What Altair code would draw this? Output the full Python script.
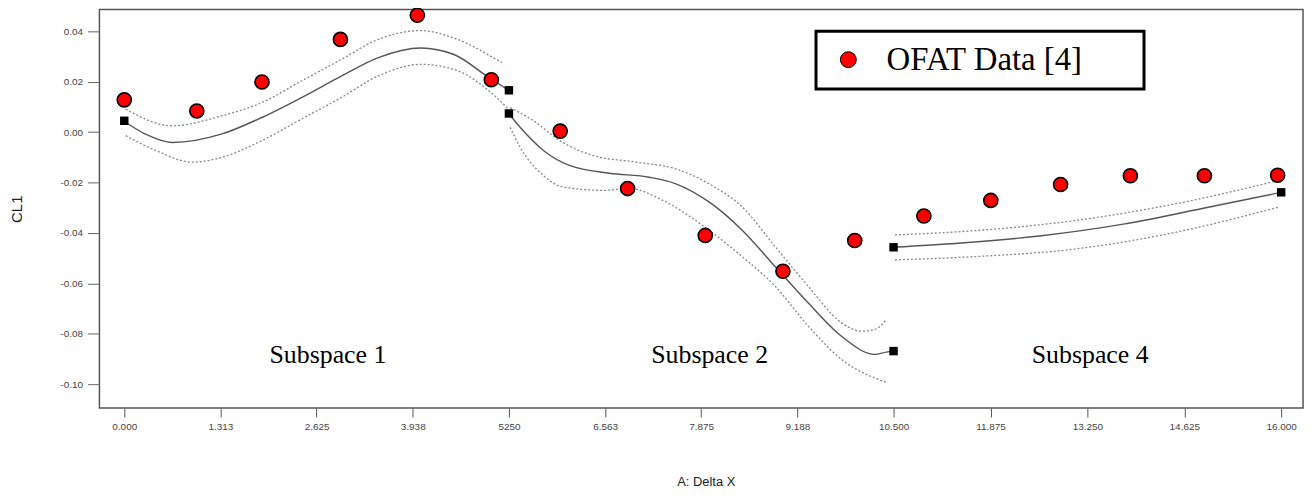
import altair as alt
import pandas as pd

# ---------------- data ----------------
ofat_x = [0.0, 0.99, 1.88, 2.95, 4.0, 5.01, 5.95, 6.87, 7.93, 8.99, 9.97,
          10.93, 11.88, 12.87, 13.86, 14.91, 15.95]
ofat_y = [0.0128, 0.0084, 0.0199, 0.0368, 0.0464, 0.0208, 0.0004, -0.0224,
          -0.0410, -0.0552, -0.0430, -0.0333, -0.0271, -0.0208, -0.0173,
          -0.0173, -0.0171]

design_x = [0.0, 5.25, 5.25, 10.5, 10.5, 16.0]
design_y = [0.0045, 0.0166, 0.0074, -0.0869, -0.0457, -0.0239]

s1_fit_x = [0.0, 0.29, 0.655, 1.334, 1.876, 2.419, 2.961, 3.459, 4.047, 4.5, 4.952, 5.246]
s1_fit_y = [0.0042, -0.0008, -0.0041, -0.0007, 0.0058, 0.0137, 0.0222, 0.0295, 0.0334, 0.0308, 0.0222, 0.0166]
s1_hi_x = [0.02, 0.655, 1.334, 1.876, 2.419, 2.961, 3.459, 4.047, 4.5, 5.155]
s1_hi_y = [0.0091, 0.0025, 0.0065, 0.0117, 0.0203, 0.0288, 0.0367, 0.0403, 0.0373, 0.0275]
s1_lo_x = [0.02, 0.43, 0.927, 1.334, 1.876, 2.419, 2.961, 3.459, 4.047, 4.5, 4.952, 5.246]
s1_lo_y = [-0.0014, -0.0073, -0.0119, -0.0100, -0.0034, 0.0052, 0.0137, 0.0222, 0.0269, 0.0249, 0.0170, 0.0091]

s2_fit_x = [5.246, 5.403, 5.721, 6.082, 6.624, 7.167, 7.529, 7.981, 8.434, 8.886, 9.337, 9.79, 10.242, 10.401, 10.5]
s2_fit_y = [0.0074, 0.0019, -0.0073, -0.0133, -0.0163, -0.0179, -0.0205, -0.0277, -0.0389, -0.0534, -0.0678, -0.0810, -0.0882, -0.0873, -0.0869]
s2_hi_x = [5.268, 5.585, 5.946, 6.399, 6.986, 7.529, 7.981, 8.434, 8.886, 9.337, 9.79, 10.062, 10.242, 10.401]
s2_hi_y = [0.0097, 0.0045, -0.0034, -0.0093, -0.0119, -0.0146, -0.0205, -0.0297, -0.0455, -0.0612, -0.0757, -0.0790, -0.0783, -0.0744]
s2_lo_x = [5.268, 5.403, 5.721, 5.992, 6.535, 6.896, 7.349, 7.981, 8.434, 8.886, 9.337, 9.79, 10.401]
s2_lo_y = [0.0019, -0.0060, -0.0172, -0.0218, -0.0231, -0.0224, -0.0271, -0.0389, -0.0494, -0.0612, -0.0770, -0.0902, -0.0993]

s4_fit_x = [10.5, 11.415, 12.598, 13.782, 14.965, 16.0]
s4_fit_y = [-0.0457, -0.0441, -0.0411, -0.0364, -0.0298, -0.0239]
s4_hi_x = [10.52, 11.652, 13.071, 14.491, 15.958]
s4_hi_y = [-0.0408, -0.0391, -0.0351, -0.0285, -0.0192]
s4_lo_x = [10.52, 11.652, 13.071, 14.491, 15.958]
s4_lo_y = [-0.0507, -0.0494, -0.0464, -0.0398, -0.0298]

label_text = ["Subspace 1", "Subspace 2", "Subspace 4"]
label_x = [2.78, 7.99, 13.29]
label_y = [-0.0917, -0.0917, -0.0917]

x_tick_values = [0, 1.3125, 2.625, 3.9375, 5.25, 6.5625, 7.875, 9.1875, 10.5,
                 11.875, 13.25, 14.625, 16]
x_tick_labels = ["0.000", "1.313", "2.625", "3.938", "5250", "6.563", "7.875",
                 "9.188", "10.500", "11.875", "13.250", "14.625", "16.000"]
y_tick_values = [-0.10, -0.08, -0.06, -0.04, -0.02, 0.0, 0.02, 0.04]
y_tick_labels = ["-0.10", "-0.08", "-0.06", "-0.04", "-0.02", "0.00", "0.02", "0.04"]

series_name = "OFAT Data [4]"

# ---------------- tables ----------------
curves = [
    ("s1_fit", "fit", s1_fit_x, s1_fit_y), ("s1_hi", "band", s1_hi_x, s1_hi_y),
    ("s1_lo", "band", s1_lo_x, s1_lo_y), ("s2_fit", "fit", s2_fit_x, s2_fit_y),
    ("s2_hi", "band", s2_hi_x, s2_hi_y), ("s2_lo", "band", s2_lo_x, s2_lo_y),
    ("s4_fit", "fit", s4_fit_x, s4_fit_y), ("s4_hi", "band", s4_hi_x, s4_hi_y),
    ("s4_lo", "band", s4_lo_x, s4_lo_y),
]
rows = []
for name, kind, xs, ys in curves:
    for i, (xv, yv) in enumerate(zip(xs, ys)):
        rows.append({"curve": name, "kind": kind, "i": i, "x": xv, "y": yv})
lines_df = pd.DataFrame(rows)
ofat_df = pd.DataFrame({"x": ofat_x, "y": ofat_y, "series": series_name})
design_df = pd.DataFrame({"x": design_x, "y": design_y})
labels_df = pd.DataFrame({"x": label_x, "y": label_y, "t": label_text})

# ---------------- scales / axes ----------------
def js_list(vals, quote=False):
    if quote:
        return "[" + ",".join("'" + v + "'" for v in vals) + "]"
    return "[" + ",".join(repr(float(v)) for v in vals) + "]"

x_label_expr = js_list(x_tick_labels, True) + "[indexof(" + js_list(x_tick_values) + ", datum.value)]"
y_label_expr = js_list(y_tick_labels, True) + "[indexof(" + js_list(y_tick_values) + ", datum.value)]"

W, H = 1211, 401
x_scale = alt.Scale(domain=[-0.339, 10.5, 16.31], range=[0, 799, W], zero=False, nice=False)
y_scale = alt.Scale(domain=[-0.10948, 0.04867], zero=False, nice=False)

x_axis = alt.Axis(values=x_tick_values, labelExpr=x_label_expr, title="A: Delta X",
                  grid=False, domain=False, tickSize=9, tickColor="#555",
                  labelFont="Liberation Sans", labelFontSize=10, labelColor="#444",
                  labelPadding=5, labelOverlap=False,
                  titleFont="Liberation Sans", titleFontSize=13, titleFontWeight="normal",
                  titleColor="#222", titleX=610, titleY=74, titleBaseline="middle")
y_axis = alt.Axis(values=y_tick_values, labelExpr=y_label_expr, title="CL1",
                  grid=False, domain=False, tickSize=12, tickColor="#666",
                  labelFont="Liberation Sans", labelFontSize=10, labelColor="#444",
                  labelPadding=5,
                  titleFont="Liberation Sans", titleFontSize=15, titleFontWeight="normal",
                  titleColor="#222", titleX=-83, titleBaseline="middle")

X = alt.X("x:Q", scale=x_scale, axis=x_axis)
Y = alt.Y("y:Q", scale=y_scale, axis=y_axis)

base_lines = alt.Chart(lines_df)
bands = base_lines.transform_filter(alt.datum.kind == "band").mark_line(
    interpolate="monotone", color="#888", strokeDash=[2, 2], strokeWidth=1.3
).encode(x=X, y=Y, detail="curve:N", order="i:Q")
fits = base_lines.transform_filter(alt.datum.kind == "fit").mark_line(
    interpolate="monotone", color="#555", strokeWidth=1.4
).encode(x=X, y=Y, detail="curve:N", order="i:Q")

# trailing no-break spaces (kept by a zero-width end mark) widen the legend box
legend_tail = "\u00a0" * 6 + "\u200b"

ofat = alt.Chart(ofat_df).mark_point(
    shape="circle", filled=True, size=200, stroke="black", strokeWidth=1.6, opacity=1
).encode(
    x=X, y=Y,
    fill=alt.Fill("series:N",
                  scale=alt.Scale(domain=[series_name], range=["#ff0000"]),
                  legend=alt.Legend(
                      title=None, orient="none", legendX=721, legendY=22,
                      direction="vertical", labelFont="Liberation Serif",
                      labelFontSize=33, labelColor="black", labelLimit=600,
                      labelExpr="datum.label + '" + legend_tail + "'",
                      symbolType="circle", symbolSize=256, symbolStrokeColor="black",
                      symbolStrokeWidth=1, symbolOffset=4, labelOffset=22,
                      padding=12, strokeColor="black", fillColor="white")),
)

design = alt.Chart(design_df).mark_point(
    shape="square", filled=True, size=72, color="black", opacity=1
).encode(x=X, y=Y)

texts = alt.Chart(labels_df).mark_text(
    font="Liberation Serif", fontSize=26, baseline="alphabetic", align="center", color="black"
).encode(x=X, y=Y, text="t:N")

chart = alt.layer(bands, fits, ofat, design, texts).properties(
    width=W, height=H,
    autosize=alt.AutoSizeParams(type="none"),
    padding={"left": 92, "top": 0, "right": 5, "bottom": 80},
).configure_view(
    stroke="#555", strokeWidth=1.5
).configure_legend(
    strokeWidth=3
)

chart.save("out.html", embed_options={"renderer": "svg", "actions": False})
